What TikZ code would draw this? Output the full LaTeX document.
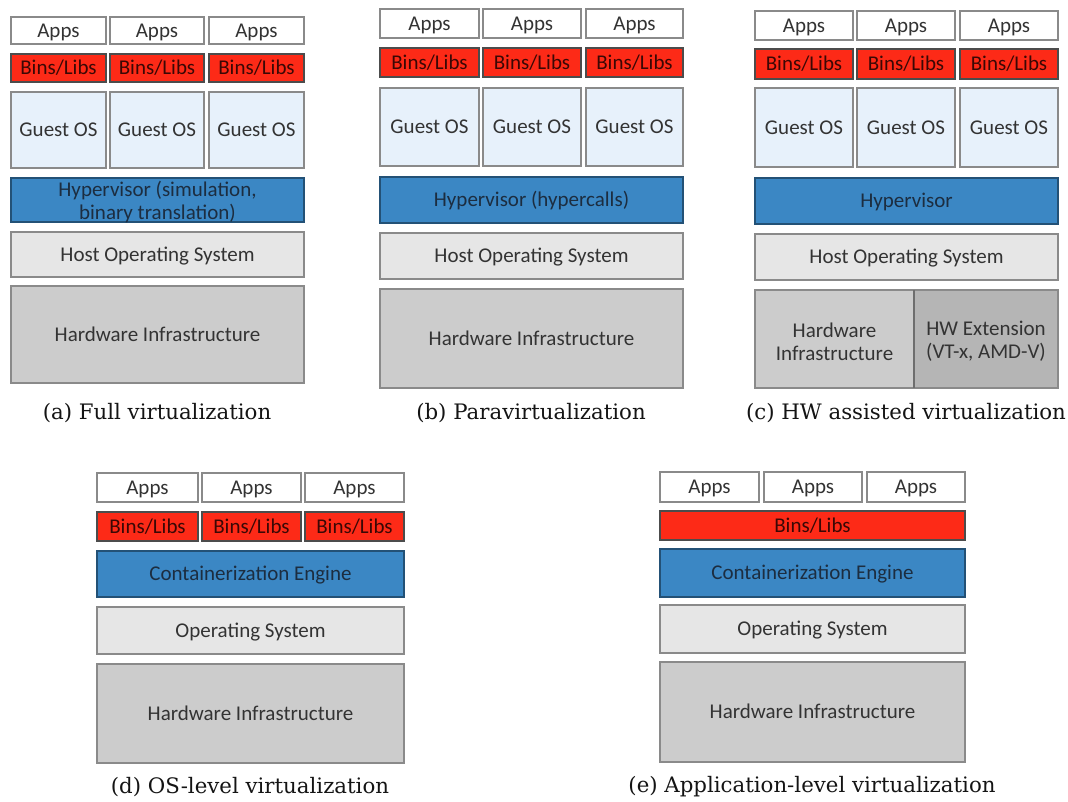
\documentclass[tikz,border=0pt]{standalone}
\usepackage{fontspec}
\setmainfont{DejaVu Serif}
\newfontfamily\boxfont{Carlito}
\usepackage{tikz}

\definecolor{appfill}{HTML}{FFFFFF}
\definecolor{binfill}{HTML}{FD2A17}
\definecolor{guestfill}{HTML}{E7F1FB}
\definecolor{hyperfill}{HTML}{3B87C4}
\definecolor{hostfill}{HTML}{E6E6E6}
\definecolor{hwfill}{HTML}{CCCCCC}
\definecolor{extfill}{HTML}{B5B5B5}
\definecolor{edge}{HTML}{8A8A8A}
\definecolor{boxtext}{HTML}{333333}
\definecolor{hypertext}{HTML}{1C2D40}
\definecolor{bintext}{HTML}{3A0805}

% one layer box: name, x1, y1, x2, y2, style, text
\newcommand{\stackbox}[7]{%
  \node[#6, minimum width={(#4-#2)*1pt}, minimum height={(#5-#3)*1pt}] (#1)
    at ({(#2+#4)/2},{(#3+#5)/2}) {};
  \node[#6, draw=none, fill=none, anchor=mid] (#1-text) at ([yshift=-4pt]#1.center) {#7};}
% same, for a label set on two lines
\newcommand{\stackboxtwo}[7]{%
  \node[#6, minimum width={(#4-#2)*1pt}, minimum height={(#5-#3)*1pt}] (#1)
    at ({(#2+#4)/2},{(#3+#5)/2}) {};
  \node[#6, draw=none, fill=none, font=\boxfont\fontsize{21}{23}\selectfont]
    (#1-text) at ([yshift=-2.5pt]#1.center) {#7};}

\begin{document}
\begin{tikzpicture}[x=1pt,y=-1pt]
\tikzset{every node/.style={inner sep=0pt, outer sep=0pt}}
\tikzset{layer/.style={draw=edge, line width=1.4pt, align=center, text=boxtext,
  font=\boxfont\fontsize{21}{21}\selectfont}}
\tikzset{apps/.style={layer, fill=appfill}}
\tikzset{bins/.style={layer, fill=binfill, draw=black!70, text=bintext}}
\tikzset{guest/.style={layer, fill=guestfill}}
\tikzset{hyper/.style={layer, fill=hyperfill, draw=hyperfill!60!black, text=hypertext}}
\tikzset{host/.style={layer, fill=hostfill}}
\tikzset{hw/.style={layer, fill=hwfill}}
\tikzset{hwext/.style={layer, fill=extfill}}
\tikzset{caption/.style={text=black!92, font=\fontsize{21.3}{24}\selectfont}}
\useasboundingbox (0,0) rectangle (1068,801);

% (a) full virtualization
\stackbox{a-apps1}{11}{17}{106}{44}{apps}{Apps}
\stackbox{a-apps2}{110}{17}{204}{44}{apps}{Apps}
\stackbox{a-apps3}{209}{17}{304}{44}{apps}{Apps}
\stackbox{a-bins1}{11}{54}{106}{82}{bins}{Bins/Libs}
\stackbox{a-bins2}{110}{54}{204}{82}{bins}{Bins/Libs}
\stackbox{a-bins3}{209}{54}{304}{82}{bins}{Bins/Libs}
\stackbox{a-guest1}{11}{92}{106}{168}{guest}{Guest OS}
\stackbox{a-guest2}{110}{92}{204}{168}{guest}{Guest OS}
\stackbox{a-guest3}{209}{92}{304}{168}{guest}{Guest OS}
\stackboxtwo{a-hyper}{11}{178}{304}{222}{hyper}{Hypervisor (simulation,\\binary translation)}
\stackbox{a-host}{11}{232}{304}{277}{host}{Host Operating System}
\stackbox{a-hw}{11}{286}{304}{383}{hw}{Hardware Infrastructure}
\node[caption] (a-cap) at (157,413) {(a) Full virtualization};

% (b) paravirtualization
\stackbox{b-apps1}{380}{9}{479}{38}{apps}{Apps}
\stackbox{b-apps2}{483}{9}{581}{38}{apps}{Apps}
\stackbox{b-apps3}{586}{9}{683}{38}{apps}{Apps}
\stackbox{b-bins1}{380}{48}{479}{77}{bins}{Bins/Libs}
\stackbox{b-bins2}{483}{48}{581}{77}{bins}{Bins/Libs}
\stackbox{b-bins3}{586}{48}{683}{77}{bins}{Bins/Libs}
\stackbox{b-guest1}{380}{88}{479}{166}{guest}{Guest OS}
\stackbox{b-guest2}{483}{88}{581}{166}{guest}{Guest OS}
\stackbox{b-guest3}{586}{88}{683}{166}{guest}{Guest OS}
\stackbox{b-hyper}{380}{177}{683}{223}{hyper}{Hypervisor (hypercalls)}
\stackbox{b-host}{380}{233}{683}{279}{host}{Host Operating System}
\stackbox{b-hw}{380}{289}{683}{388}{hw}{Hardware Infrastructure}
\node[caption] (b-cap) at (531,413) {(b) Paravirtualization};

% (c) hw assisted virtualization
\stackbox{c-apps1}{755}{11}{853}{40}{apps}{Apps}
\stackbox{c-apps2}{857}{11}{955}{40}{apps}{Apps}
\stackbox{c-apps3}{960}{11}{1058}{40}{apps}{Apps}
\stackbox{c-bins1}{755}{49}{853}{79}{bins}{Bins/Libs}
\stackbox{c-bins2}{857}{49}{955}{79}{bins}{Bins/Libs}
\stackbox{c-bins3}{960}{49}{1058}{79}{bins}{Bins/Libs}
\stackbox{c-guest1}{755}{88}{853}{167}{guest}{Guest OS}
\stackbox{c-guest2}{857}{88}{955}{167}{guest}{Guest OS}
\stackbox{c-guest3}{960}{88}{1058}{167}{guest}{Guest OS}
\stackbox{c-hyper}{755}{178}{1058}{224}{hyper}{Hypervisor}
\stackbox{c-host}{755}{234}{1058}{280}{host}{Host Operating System}
\stackboxtwo{c-hw}{755}{290}{914}{388}{hw}{Hardware\\Infrastructure}
\stackboxtwo{c-ext}{914}{290}{1058}{388}{hwext}{HW Extension\\(VT-x, AMD-V)}
\draw[edge!80!black, line width=2.2pt] (c-hw.north east) -- (c-hw.south east);
\node[caption] (c-cap) at (906,413) {(c) HW assisted virtualization};

% (d) os-level virtualization
\stackbox{d-apps1}{97}{473}{198}{502}{apps}{Apps}
\stackbox{d-apps2}{202}{473}{301}{502}{apps}{Apps}
\stackbox{d-apps3}{305}{473}{404}{502}{apps}{Apps}
\stackbox{d-bins1}{97}{512}{198}{541}{bins}{Bins/Libs}
\stackbox{d-bins2}{202}{512}{301}{541}{bins}{Bins/Libs}
\stackbox{d-bins3}{305}{512}{404}{541}{bins}{Bins/Libs}
\stackbox{d-engine}{97}{551}{404}{597}{hyper}{Containerization Engine}
\stackbox{d-os}{97}{607}{404}{654}{host}{Operating System}
\stackbox{d-hw}{97}{664}{404}{763}{hw}{Hardware Infrastructure}
\node[caption] (d-cap) at (250,787) {(d) OS-level virtualization};

% (e) application-level virtualization
\stackbox{e-apps1}{660}{472}{759}{502}{apps}{Apps}
\stackbox{e-apps2}{764}{472}{862}{502}{apps}{Apps}
\stackbox{e-apps3}{867}{472}{965}{502}{apps}{Apps}
\stackbox{e-bins}{660}{511}{965}{540}{bins}{Bins/Libs}
\stackbox{e-engine}{660}{549}{965}{597}{hyper}{Containerization Engine}
\stackbox{e-os}{660}{605}{965}{653}{host}{Operating System}
\stackbox{e-hw}{660}{662}{965}{762}{hw}{Hardware Infrastructure}
\node[caption] (e-cap) at (812,787) {(e) Application-level virtualization};
\end{tikzpicture}
\end{document}
